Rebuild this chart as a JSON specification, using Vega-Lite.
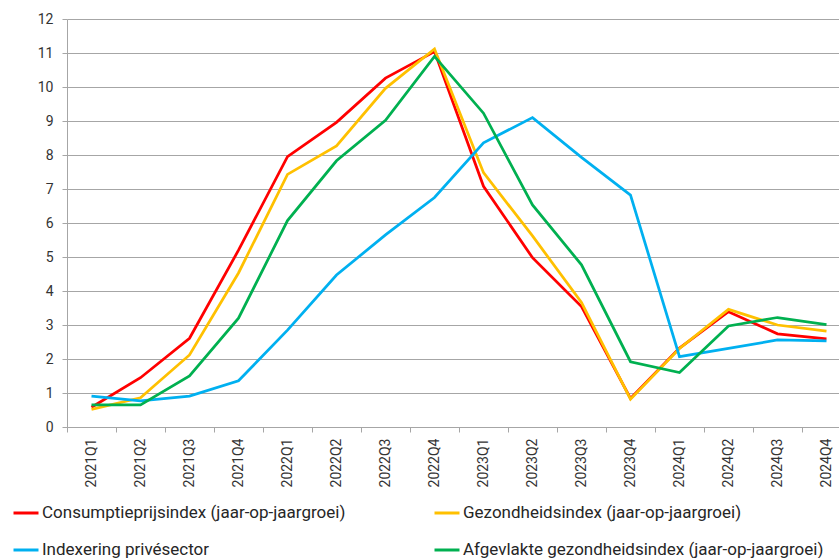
{
  "$schema": "https://vega.github.io/schema/vega-lite/v6.json",
  "width": 772,
  "height": 408,
  "autosize": {"type": "none"},
  "padding": {"left": 67, "top": 19, "right": 0, "bottom": 131},
  "config": {
    "font": "Roboto",
    "view": {"stroke": null},
    "axis": {"labelFont": "Roboto", "labelColor": "#333333", "labelFontSize": 14}
  },
  "data": {
    "values": [
      {"q": "2021Q1", "s": "Consumptieprijsindex (jaar-op-jaargroei)", "v": 0.58},
      {"q": "2021Q2", "s": "Consumptieprijsindex (jaar-op-jaargroei)", "v": 1.45},
      {"q": "2021Q3", "s": "Consumptieprijsindex (jaar-op-jaargroei)", "v": 2.61},
      {"q": "2021Q4", "s": "Consumptieprijsindex (jaar-op-jaargroei)", "v": 5.2},
      {"q": "2022Q1", "s": "Consumptieprijsindex (jaar-op-jaargroei)", "v": 7.95},
      {"q": "2022Q2", "s": "Consumptieprijsindex (jaar-op-jaargroei)", "v": 8.96},
      {"q": "2022Q3", "s": "Consumptieprijsindex (jaar-op-jaargroei)", "v": 10.26},
      {"q": "2022Q4", "s": "Consumptieprijsindex (jaar-op-jaargroei)", "v": 11.04},
      {"q": "2023Q1", "s": "Consumptieprijsindex (jaar-op-jaargroei)", "v": 7.08},
      {"q": "2023Q2", "s": "Consumptieprijsindex (jaar-op-jaargroei)", "v": 4.98},
      {"q": "2023Q3", "s": "Consumptieprijsindex (jaar-op-jaargroei)", "v": 3.54},
      {"q": "2023Q4", "s": "Consumptieprijsindex (jaar-op-jaargroei)", "v": 0.84},
      {"q": "2024Q1", "s": "Consumptieprijsindex (jaar-op-jaargroei)", "v": 2.32},
      {"q": "2024Q2", "s": "Consumptieprijsindex (jaar-op-jaargroei)", "v": 3.39},
      {"q": "2024Q3", "s": "Consumptieprijsindex (jaar-op-jaargroei)", "v": 2.74},
      {"q": "2024Q4", "s": "Consumptieprijsindex (jaar-op-jaargroei)", "v": 2.59},
      {"q": "2021Q1", "s": "Gezondheidsindex (jaar-op-jaargroei)", "v": 0.52},
      {"q": "2021Q2", "s": "Gezondheidsindex (jaar-op-jaargroei)", "v": 0.86},
      {"q": "2021Q3", "s": "Gezondheidsindex (jaar-op-jaargroei)", "v": 2.12},
      {"q": "2021Q4", "s": "Gezondheidsindex (jaar-op-jaargroei)", "v": 4.53},
      {"q": "2022Q1", "s": "Gezondheidsindex (jaar-op-jaargroei)", "v": 7.43},
      {"q": "2022Q2", "s": "Gezondheidsindex (jaar-op-jaargroei)", "v": 8.27},
      {"q": "2022Q3", "s": "Gezondheidsindex (jaar-op-jaargroei)", "v": 9.96},
      {"q": "2022Q4", "s": "Gezondheidsindex (jaar-op-jaargroei)", "v": 11.12},
      {"q": "2023Q1", "s": "Gezondheidsindex (jaar-op-jaargroei)", "v": 7.48},
      {"q": "2023Q2", "s": "Gezondheidsindex (jaar-op-jaargroei)", "v": 5.62},
      {"q": "2023Q3", "s": "Gezondheidsindex (jaar-op-jaargroei)", "v": 3.66},
      {"q": "2023Q4", "s": "Gezondheidsindex (jaar-op-jaargroei)", "v": 0.82},
      {"q": "2024Q1", "s": "Gezondheidsindex (jaar-op-jaargroei)", "v": 2.31},
      {"q": "2024Q2", "s": "Gezondheidsindex (jaar-op-jaargroei)", "v": 3.46},
      {"q": "2024Q3", "s": "Gezondheidsindex (jaar-op-jaargroei)", "v": 3.0},
      {"q": "2024Q4", "s": "Gezondheidsindex (jaar-op-jaargroei)", "v": 2.82},
      {"q": "2021Q1", "s": "Indexering privésector", "v": 0.91},
      {"q": "2021Q2", "s": "Indexering privésector", "v": 0.77},
      {"q": "2021Q3", "s": "Indexering privésector", "v": 0.91},
      {"q": "2021Q4", "s": "Indexering privésector", "v": 1.36},
      {"q": "2022Q1", "s": "Indexering privésector", "v": 2.85},
      {"q": "2022Q2", "s": "Indexering privésector", "v": 4.47},
      {"q": "2022Q3", "s": "Indexering privésector", "v": 5.65},
      {"q": "2022Q4", "s": "Indexering privésector", "v": 6.75},
      {"q": "2023Q1", "s": "Indexering privésector", "v": 8.36},
      {"q": "2023Q2", "s": "Indexering privésector", "v": 9.1},
      {"q": "2023Q3", "s": "Indexering privésector", "v": 7.93},
      {"q": "2023Q4", "s": "Indexering privésector", "v": 6.82},
      {"q": "2024Q1", "s": "Indexering privésector", "v": 2.07},
      {"q": "2024Q2", "s": "Indexering privésector", "v": 2.31},
      {"q": "2024Q3", "s": "Indexering privésector", "v": 2.56},
      {"q": "2024Q4", "s": "Indexering privésector", "v": 2.53},
      {"q": "2021Q1", "s": "Afgevlakte gezondheidsindex (jaar-op-jaargroei)", "v": 0.65},
      {"q": "2021Q2", "s": "Afgevlakte gezondheidsindex (jaar-op-jaargroei)", "v": 0.65},
      {"q": "2021Q3", "s": "Afgevlakte gezondheidsindex (jaar-op-jaargroei)", "v": 1.5},
      {"q": "2021Q4", "s": "Afgevlakte gezondheidsindex (jaar-op-jaargroei)", "v": 3.2},
      {"q": "2022Q1", "s": "Afgevlakte gezondheidsindex (jaar-op-jaargroei)", "v": 6.07},
      {"q": "2022Q2", "s": "Afgevlakte gezondheidsindex (jaar-op-jaargroei)", "v": 7.83},
      {"q": "2022Q3", "s": "Afgevlakte gezondheidsindex (jaar-op-jaargroei)", "v": 9.02},
      {"q": "2022Q4", "s": "Afgevlakte gezondheidsindex (jaar-op-jaargroei)", "v": 10.9},
      {"q": "2023Q1", "s": "Afgevlakte gezondheidsindex (jaar-op-jaargroei)", "v": 9.23},
      {"q": "2023Q2", "s": "Afgevlakte gezondheidsindex (jaar-op-jaargroei)", "v": 6.53},
      {"q": "2023Q3", "s": "Afgevlakte gezondheidsindex (jaar-op-jaargroei)", "v": 4.77},
      {"q": "2023Q4", "s": "Afgevlakte gezondheidsindex (jaar-op-jaargroei)", "v": 1.92},
      {"q": "2024Q1", "s": "Afgevlakte gezondheidsindex (jaar-op-jaargroei)", "v": 1.6},
      {"q": "2024Q2", "s": "Afgevlakte gezondheidsindex (jaar-op-jaargroei)", "v": 2.97},
      {"q": "2024Q3", "s": "Afgevlakte gezondheidsindex (jaar-op-jaargroei)", "v": 3.22},
      {"q": "2024Q4", "s": "Afgevlakte gezondheidsindex (jaar-op-jaargroei)", "v": 3.01}
    ]
  },
  "mark": {"type": "line", "strokeWidth": 2.75, "clip": false},
  "encoding": {
    "x": {
      "field": "q",
      "type": "ordinal",
      "sort": null,
      "bandPosition": 0.5,
      "scale": {"type": "band", "range": [0, 784], "paddingInner": 0, "paddingOuter": 0},
      "axis": {
        "title": null,
        "labelAngle": 270,
        "labelAlign": "right",
        "labelBaseline": "middle",
        "tickBand": "extent",
        "grid": false,
        "domainColor": "#a6a6a6",
        "tickColor": "#a6a6a6",
        "tickSize": 5,
        "labelPadding": 6
      }
    },
    "y": {
      "field": "v",
      "type": "quantitative",
      "scale": {"domain": [0, 12], "nice": false},
      "axis": {
        "title": null,
        "values": [0, 1, 2, 3, 4, 5, 6, 7, 8, 9, 10, 11, 12],
        "gridColor": "#a6a6a6",
        "domainColor": "#a6a6a6",
        "tickColor": "#a6a6a6",
        "tickSize": 5,
        "labelPadding": 9
      }
    },
    "color": {
      "field": "s",
      "type": "nominal",
      "scale": {
        "domain": [
          "Consumptieprijsindex (jaar-op-jaargroei)",
          "Indexering privésector",
          "Gezondheidsindex (jaar-op-jaargroei)",
          "Afgevlakte gezondheidsindex (jaar-op-jaargroei)"
        ],
        "range": ["#ff0000", "#00b0f0", "#ffc000", "#00b050"]
      },
      "legend": {
        "title": null,
        "orient": "none",
        "legendX": -55,
        "legendY": 480,
        "columns": 2,
        "columnPadding": 82,
        "rowPadding": 15,
        "symbolType": "stroke",
        "symbolSize": 625,
        "symbolStrokeWidth": 3,
        "labelFontSize": 17,
        "labelColor": "#262626",
        "labelOffset": 2,
        "labelLimit": 600
      }
    }
  }
}
